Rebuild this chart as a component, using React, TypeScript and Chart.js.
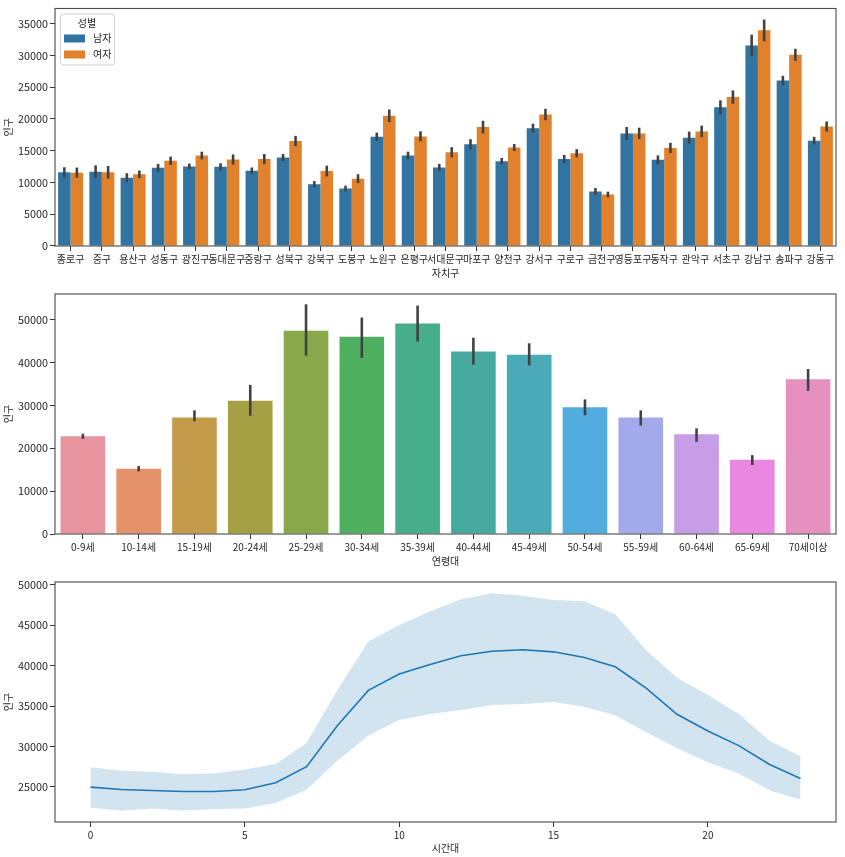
import React, { useEffect, useRef } from "react";
import { Chart, registerables } from "chart.js";

Chart.register(...registerables);

// ---------- Data ----------
const districts = ["종로구", "중구", "용산구", "성동구", "광진구", "동대문구", "중랑구", "성북구", "강북구", "도봉구", "노원구", "은평구", "서대문구", "마포구", "양천구", "강서구", "구로구", "금천구", "영등포구", "동작구", "관악구", "서초구", "강남구", "송파구", "강동구"];
const maleMean = [11600, 11700, 10760, 12320, 12530, 12480, 11860, 13940, 9720, 9050, 17200, 14250, 12380, 16020, 13360, 18560, 13680, 8580, 17730, 13570, 17060, 21840, 31570, 26050, 16590];
const maleErr = [800, 1000, 700, 600, 450, 550, 500, 550, 500, 450, 650, 600, 550, 800, 500, 700, 650, 550, 1000, 700, 950, 1100, 1700, 750, 600];
const femaleMean = [11550, 11600, 11280, 13420, 14250, 13620, 13680, 16540, 11800, 10600, 20500, 17260, 14770, 18720, 15500, 20700, 14600, 8100, 17730, 15440, 18040, 23450, 33960, 30100, 18820];
const femaleErr = [800, 1000, 600, 650, 600, 800, 800, 800, 850, 700, 1000, 800, 800, 1000, 550, 900, 650, 450, 900, 800, 900, 1050, 1700, 950, 800];
const sexLabels = ["남자", "여자"];
const districtTicks = [0, 5000, 10000, 15000, 20000, 25000, 30000, 35000];

const ageGroups = ["0-9세", "10-14세", "15-19세", "20-24세", "25-29세", "30-34세", "35-39세", "40-44세", "45-49세", "50-54세", "55-59세", "60-64세", "65-69세", "70세이상"];
const ageMean = [22780, 15240, 27200, 31100, 47400, 46000, 49100, 42600, 41800, 29550, 27200, 23250, 17340, 36100];
const ageLow = [22200, 14620, 26300, 27600, 41600, 41100, 44900, 39500, 39300, 27700, 25300, 21500, 16100, 33400];
const ageHigh = [23400, 15860, 28850, 34800, 53600, 50500, 53300, 45800, 44500, 31400, 28850, 24650, 18400, 38500];
const ageTicks = [0, 10000, 20000, 30000, 40000, 50000];

const hours = [0, 1, 2, 3, 4, 5, 6, 7, 8, 9, 10, 11, 12, 13, 14, 15, 16, 17, 18, 19, 20, 21, 22, 23];
const hourMean = [24960, 24670, 24550, 24420, 24420, 24630, 25500, 27500, 32600, 36940, 38960, 40160, 41230, 41800, 41970, 41720, 41020, 39870, 37230, 33980, 31920, 30100, 27760, 26030];
const hourUpper = [27430, 26980, 26850, 26570, 26650, 27140, 27840, 30440, 36980, 43000, 45000, 46750, 48230, 48970, 48680, 48150, 47980, 46380, 41930, 38500, 36370, 34020, 30720, 28790];
const hourLower = [22400, 22080, 22320, 22080, 22240, 22320, 22980, 24630, 28250, 31340, 33280, 34020, 34510, 35130, 35260, 35500, 34930, 33860, 31750, 29780, 28050, 26650, 24550, 23430];
const hourXTicks = [0, 5, 10, 15, 20];
const hourYTicks = [25000, 30000, 35000, 40000, 45000, 50000];

// ---------- Styles ----------
const FONT = "'Noto Sans CJK KR', 'Noto Sans', sans-serif";
const TEXT = "#262626";
const sexColors = ["#3274a1", "#e1812c"];
const agePalette = ["#e8949f", "#e5916a", "#c39b4b", "#a6a044", "#88a84a", "#4fb05f", "#46ae8b", "#46aaa1", "#4aabb6", "#52acdd", "#a2aaeb", "#c69de6", "#e888e0", "#e690c0"];

const framePlugin = {
  id: "frame",
  afterDraw(chart: any) {
    const { ctx, chartArea } = chart;
    ctx.save();
    ctx.strokeStyle = "#4a4a4a";
    ctx.lineWidth = 1.1;
    ctx.strokeRect(chartArea.left, chartArea.top, chartArea.right - chartArea.left, chartArea.bottom - chartArea.top);
    ctx.restore();
  },
};

const errorBarPlugin = {
  id: "errorBars",
  afterDatasetsDraw(chart: any) {
    const { ctx } = chart;
    const yScale = chart.scales.y;
    ctx.save();
    ctx.strokeStyle = "#424242";
    ctx.lineWidth = 2.6;
    chart.data.datasets.forEach((ds: any, di: number) => {
      if (!ds.errLow || !ds.errHigh) return;
      const meta = chart.getDatasetMeta(di);
      meta.data.forEach((el: any, i: number) => {
        const y1 = yScale.getPixelForValue(ds.errLow[i]);
        const y2 = yScale.getPixelForValue(ds.errHigh[i]);
        ctx.beginPath();
        ctx.moveTo(el.x, y1);
        ctx.lineTo(el.x, y2);
        ctx.stroke();
      });
    });
    ctx.restore();
  },
};

const sexLegendPlugin = {
  id: "sexLegend",
  afterDraw(chart: any) {
    const { ctx, chartArea } = chart;
    const x0 = chartArea.left + 5;
    const y0 = chartArea.top + 5;
    const w = 54;
    const h = 51;
    ctx.save();
    ctx.fillStyle = "rgba(255,255,255,0.85)";
    ctx.strokeStyle = "#d0d0d0";
    ctx.lineWidth = 1;
    ctx.beginPath();
    (ctx as any).roundRect(x0 + 0.5, y0 + 0.5, w, h, 3);
    ctx.fill();
    ctx.stroke();
    ctx.fillStyle = TEXT;
    ctx.font = `10px ${FONT}`;
    ctx.textAlign = "center";
    ctx.textBaseline = "middle";
    ctx.fillText("성별", x0 + w / 2, y0 + 10);
    chart.data.datasets.forEach((ds: any, i: number) => {
      const cy = y0 + 25 + i * 16;
      ctx.fillStyle = ds.backgroundColor;
      ctx.fillRect(x0 + 4, cy - 4, 21, 8);
      ctx.fillStyle = TEXT;
      ctx.textAlign = "left";
      ctx.fillText(ds.label, x0 + 33, cy);
    });
    ctx.restore();
  },
};

function axisCommon(tickVals: number[] | null, numeric: boolean, fontSize: number, extra: any = {}) {
  const ticks: any = { color: TEXT, font: { family: FONT, size: fontSize }, padding: 2, maxRotation: 0, autoSkip: false };
  if (numeric) ticks.callback = (v: any) => String(v);
  return {
    grid: { display: true, drawOnChartArea: false, drawTicks: true, tickLength: 5, color: "#333", offset: false },
    border: { display: false },
    ticks,
    afterBuildTicks: tickVals ? (s: any) => { s.ticks = tickVals.map((v) => ({ value: v })); } : undefined,
    ...extra,
  };
}

function makeOptions(opts: {
  top: number; xHeight: number; yMin: number; yMax: number; yTicks: number[];
  xTitle: string; xTitlePad: number; xLinear?: boolean; xTicks?: number[];
}) {
  const xScale: any = axisCommon(opts.xLinear ? opts.xTicks || null : null, !!opts.xLinear, 10, {
    afterFit: (s: any) => { s.height = opts.xHeight; },
    title: { display: true, text: opts.xTitle, color: TEXT, font: { family: FONT, size: 10 }, padding: { top: 0, bottom: opts.xTitlePad } },
  });
  if (opts.xLinear) {
    xScale.type = "linear";
    xScale.min = -1.15;
    xScale.max = 24.15;
  }
  const yScale: any = axisCommon(opts.yTicks, true, 10.8, {
    min: opts.yMin,
    max: opts.yMax,
    afterFit: (s: any) => { s.width = 55; },
    title: { display: true, text: "인구", color: TEXT, font: { family: FONT, size: 10 }, padding: { top: 2, bottom: 2 } },
  });
  return {
    responsive: false,
    animation: false as const,
    devicePixelRatio: 1,
    layout: { padding: { top: opts.top, right: 9, left: 0, bottom: 0 } },
    plugins: { legend: { display: false }, tooltip: { enabled: false } },
    scales: { x: xScale, y: yScale },
  };
}

function useChart(ref: React.RefObject<HTMLCanvasElement | null>, build: () => any) {
  useEffect(() => {
    if (!ref.current) return;
    const chart = new Chart(ref.current, build());
    return () => chart.destroy();
  }, []);
}

export default function App() {
  const c1 = useRef<HTMLCanvasElement>(null);
  const c2 = useRef<HTMLCanvasElement>(null);
  const c3 = useRef<HTMLCanvasElement>(null);

  useEffect(() => {
    document.body.style.margin = "0";
    document.body.style.background = "#fff";
  }, []);

  useChart(c1, () => ({
    type: "bar",
    data: {
      labels: districts,
      datasets: [
        {
          label: sexLabels[0], data: maleMean, backgroundColor: sexColors[0],
          errLow: maleMean.map((v, i) => v - maleErr[i]), errHigh: maleMean.map((v, i) => v + maleErr[i]),
          categoryPercentage: 0.8, barPercentage: 1.0,
        },
        {
          label: sexLabels[1], data: femaleMean, backgroundColor: sexColors[1],
          errLow: femaleMean.map((v, i) => v - femaleErr[i]), errHigh: femaleMean.map((v, i) => v + femaleErr[i]),
          categoryPercentage: 0.8, barPercentage: 1.0,
        },
      ],
    },
    options: makeOptions({ top: 7, xHeight: 39, yMin: 0, yMax: 37400, yTicks: districtTicks, xTitle: "자치구", xTitlePad: 6 }),
    plugins: [errorBarPlugin, framePlugin, sexLegendPlugin],
  }));

  useChart(c2, () => ({
    type: "bar",
    data: {
      labels: ageGroups,
      datasets: [
        {
          label: "인구", data: ageMean, backgroundColor: agePalette,
          errLow: ageLow, errHigh: ageHigh,
          categoryPercentage: 0.8, barPercentage: 1.0,
        },
      ],
    },
    options: makeOptions({ top: 9, xHeight: 38, yMin: 0, yMax: 56000, yTicks: ageTicks, xTitle: "연령대", xTitlePad: 5 }),
    plugins: [errorBarPlugin, framePlugin],
  }));

  useChart(c3, () => ({
    type: "line",
    data: {
      datasets: [
        {
          label: "upper", data: hours.map((h, i) => ({ x: h, y: hourUpper[i] })),
          borderWidth: 0, pointRadius: 0, backgroundColor: "rgba(31,119,180,0.2)", fill: "+1", tension: 0,
        },
        {
          label: "lower", data: hours.map((h, i) => ({ x: h, y: hourLower[i] })),
          borderWidth: 0, pointRadius: 0, backgroundColor: "rgba(31,119,180,0.2)", fill: false, tension: 0,
        },
        {
          label: "인구", data: hours.map((h, i) => ({ x: h, y: hourMean[i] })),
          borderWidth: 1.6, borderColor: "#1f77b4", pointRadius: 0, fill: false, tension: 0,
        },
      ],
    },
    options: makeOptions({ top: 10, xHeight: 35, yMin: 20640, yMax: 50370, yTicks: hourYTicks, xTitle: "시간대", xTitlePad: 3, xLinear: true, xTicks: hourXTicks }),
    plugins: [framePlugin],
  }));

  return (
    <div style={{ position: "relative", width: 845, height: 857, background: "#fff" }}>
      <canvas ref={c1} width={845} height={285} style={{ position: "absolute", left: 0, top: 0 }} />
      <canvas ref={c2} width={845} height={287} style={{ position: "absolute", left: 0, top: 285 }} />
      <canvas ref={c3} width={845} height={285} style={{ position: "absolute", left: 0, top: 572 }} />
    </div>
  );
}
